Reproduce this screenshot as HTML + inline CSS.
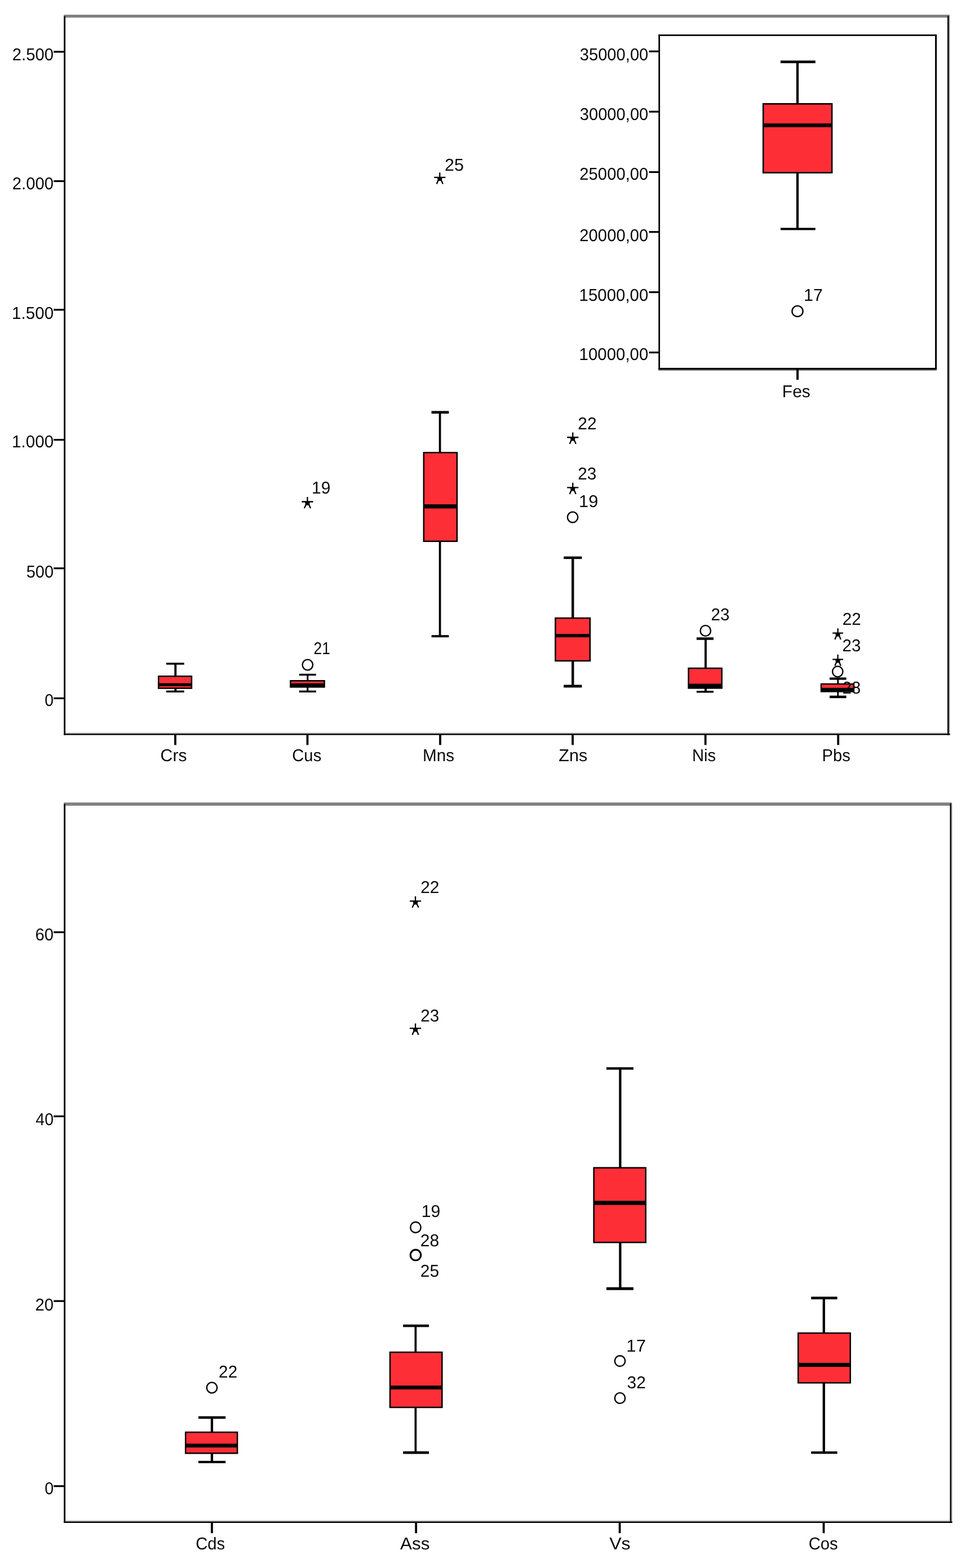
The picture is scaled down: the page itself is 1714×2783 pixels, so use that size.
<!DOCTYPE html>
<html lang="en">
<head>
<meta charset="utf-8">
<title>Boxplots</title>
<style>
html, body { margin: 0; padding: 0; background: #fff; }
body { width: 1714px; height: 2783px; overflow: hidden; }
svg { display: block; }
svg text { font-family: "Liberation Sans", Arial, Helvetica, sans-serif; text-rendering: geometricPrecision; font-size: 29.0px; fill: #0a0a0a; }
svg .st { fill: #000; }
svg .sa { fill: none; stroke: #000; stroke-width: 2.3; }
</style>
</head>
<body>
<svg width="1714" height="2783" viewBox="0 0 1714 2783">
<g>
<rect x="-10" y="-10" width="1734" height="2803" fill="#fff"/>
<rect x="113.2" y="26.1" width="1571.7" height="5.2" fill="#808080"/>
<rect x="1680.9" y="28.1" width="3" height="1276.5" fill="#161616"/>
<rect x="1683.9" y="28.1" width="1.6" height="1276.5" fill="#a8a8a8"/>
<rect x="116.1" y="1299.8" width="1564.8" height="2.3" fill="#cfcfcf"/>
<rect x="113.2" y="28.7" width="2.9" height="1275.9"/>
<rect x="113.2" y="1302.1" width="1572.3" height="2.5"/>
<rect x="95.2" y="90.3" width="18.8" height="3.2"/>
<text transform="matrix(1.0109 0 0 1.0500 21.73 107.4)">2.500</text>
<rect x="95.2" y="319.9" width="18.8" height="3.2"/>
<text transform="matrix(1.0095 0 0 1.0500 21.84 335.6)">2.000</text>
<rect x="95.2" y="548.2" width="18.8" height="3.2"/>
<text transform="matrix(1.0201 0 0 1.0500 21.08 566.1)">1.500</text>
<rect x="95.2" y="779" width="18.8" height="3.2"/>
<text transform="matrix(1.0201 0 0 1.0500 21.08 794.2)">1.000</text>
<rect x="95.2" y="1007.1" width="18.8" height="3.2"/>
<text transform="matrix(1.0020 0 0 1.0500 46.64 1025)">500</text>
<rect x="95.2" y="1237.8" width="18.8" height="3.2"/>
<text transform="matrix(0.9821 0 0 1.0500 79.26 1252.9)">0</text>
<rect x="309.1" y="1304" width="3.8" height="18.3"/>
<text transform="matrix(1.0415 0 0 1.0500 284.59 1351.4)">Crs</text>
<rect x="543.6" y="1304" width="3.8" height="18.3"/>
<text transform="matrix(1.0085 0 0 1.0500 518.24 1351.4)">Cus</text>
<rect x="779.1" y="1304" width="3.8" height="18.3"/>
<text transform="matrix(1.0233 0 0 1.0500 749.95 1351.4)">Mns</text>
<rect x="1014.2" y="1304" width="3.8" height="18.3"/>
<text transform="matrix(1.0560 0 0 1.0500 991.3 1351.4)">Zns</text>
<rect x="1249.8" y="1304" width="3.8" height="18.3"/>
<text transform="matrix(1.0105 0 0 1.0500 1227.88 1351.4)">Nis</text>
<rect x="1485.3" y="1304" width="3.8" height="18.3"/>
<text transform="matrix(1.0055 0 0 1.0500 1458.59 1351.4)">Pbs</text>
<rect x="309.35" y="1177.2" width="3.91" height="22.8"/>
<rect x="309.35" y="1221.8" width="3.91" height="6.2"/>
<rect x="295" y="1176.3" width="31.8" height="3.4"/>
<rect x="295" y="1225.6" width="31.8" height="3.4"/>
<rect x="280" y="1199" width="61.2" height="23.8"/>
<rect x="282.5" y="1201.5" width="56.2" height="18.8" fill="#fe2e37"/>
<rect x="281" y="1212.63" width="59.2" height="5.34"/>
<rect x="544.27" y="1196.8" width="3.06" height="11.2"/>
<rect x="544.27" y="1219.6" width="3.06" height="8.4"/>
<rect x="530.8" y="1195.8" width="30" height="3.4"/>
<rect x="530.8" y="1225.6" width="30" height="3.4"/>
<rect x="514.2" y="1207" width="62.6" height="13.6"/>
<rect x="516.7" y="1209.5" width="57.6" height="8.6" fill="#fe2e37"/>
<rect x="515.2" y="1212.86" width="60.6" height="5.89"/>
<ellipse cx="545.8" cy="1180" rx="9.2" ry="9.4" fill="none" stroke="#000" stroke-width="2.4"/>
<text transform="matrix(0.9093 0 0 1.0500 556.58 1160.9)">21</text>
<path class="sa" d="M535.4 890.5H555.6M545.5 881.9V890.5M543.7 893.5L539.94 902.1M547.3 893.5L551.06 902.1"/>
<polygon class="st" points="541.1,889.9 549.9,889.9 548.9,897.39 545.5,896.39 542.1,897.39"/>
<text transform="matrix(1.0345 0 0 1.0500 552.95 875.7)">19</text>
<rect x="778.73" y="730.2" width="3.74" height="72.8"/>
<rect x="778.73" y="961" width="3.74" height="169.4"/>
<rect x="765.6" y="729.46" width="30.8" height="4.68"/>
<rect x="765.6" y="1127.22" width="30.8" height="3.96"/>
<rect x="750.6" y="802" width="61.6" height="160"/>
<rect x="753.1" y="804.5" width="56.6" height="155" fill="#fe2e37"/>
<rect x="751.6" y="895.12" width="59.6" height="7.36"/>
<path class="sa" d="M770.2 314.9H790.4M780.3 306.3V314.9M778.5 317.9L774.74 326.5M782.1 317.9L785.86 326.5"/>
<polygon class="st" points="775.9,314.3 784.7,314.3 783.7,321.79 780.3,320.79 776.9,321.79"/>
<text transform="matrix(1.0514 0 0 1.0500 788.98 303.2)">25</text>
<rect x="1014.09" y="988.4" width="4.42" height="108.4"/>
<rect x="1014.09" y="1173.2" width="4.42" height="46.4"/>
<rect x="1000.2" y="987.65" width="32.2" height="4.5"/>
<rect x="1000.2" y="1215.47" width="32.2" height="4.86"/>
<rect x="984.2" y="1095.8" width="64" height="78.4"/>
<rect x="986.7" y="1098.3" width="59" height="73.4" fill="#fe2e37"/>
<rect x="985.2" y="1125.26" width="62" height="5.89"/>
<path class="sa" d="M1006.2 776.25H1026.4M1016.3 767.6V776.25M1014.5 779.25L1010.74 787.9M1018.1 779.25L1021.86 787.9"/>
<polygon class="st" points="1011.9,775.64 1020.7,775.64 1019.7,783.17 1016.3,782.17 1012.9,783.17"/>
<text transform="matrix(1.0345 0 0 1.0500 1025.2 762)">22</text>
<path class="sa" d="M1006.2 865.4H1026.4M1016.3 856.8V865.4M1014.5 868.4L1010.74 877M1018.1 868.4L1021.86 877"/>
<polygon class="st" points="1011.9,864.8 1020.7,864.8 1019.7,872.29 1016.3,871.29 1012.9,872.29"/>
<text transform="matrix(1.0269 0 0 1.0500 1025.21 851.4)">23</text>
<ellipse cx="1016.1" cy="918" rx="9.2" ry="9.4" fill="none" stroke="#000" stroke-width="2.4"/>
<text transform="matrix(1.0658 0 0 1.0500 1027.08 900)">19</text>
<rect x="1250.05" y="1132" width="3.91" height="53.8"/>
<rect x="1250.05" y="1221.6" width="3.91" height="7"/>
<rect x="1236" y="1131.25" width="30" height="4.5"/>
<rect x="1236" y="1226.1" width="30" height="3.4"/>
<rect x="1220.4" y="1184.8" width="61.6" height="37.8"/>
<rect x="1222.9" y="1187.3" width="56.6" height="32.8" fill="#fe2e37"/>
<rect x="1221.4" y="1213.51" width="59.6" height="7.18"/>
<ellipse cx="1251.8" cy="1119.5" rx="9.2" ry="9.4" fill="none" stroke="#000" stroke-width="2.4"/>
<text transform="matrix(1.0235 0 0 1.0500 1261.52 1101)">23</text>
<path class="sa" d="M1477.2 1123.63H1496M1486.6 1115.2V1123.63M1484.8 1126.63L1481.4 1135M1488.4 1126.63L1491.8 1135"/>
<polygon class="st" points="1482.2,1123.03 1491,1123.03 1490,1130.38 1486.6,1129.38 1483.2,1130.38"/>
<text transform="matrix(1.0277 0 0 1.0500 1494.71 1109.2)">22</text>
<path class="sa" d="M1477.2 1170.32H1496M1486.6 1161.8V1170.32M1484.8 1173.32L1481.4 1181.8M1488.4 1173.32L1491.8 1181.8"/>
<polygon class="st" points="1482.2,1169.72 1491,1169.72 1490,1177.14 1486.6,1176.14 1483.2,1177.14"/>
<text transform="matrix(1.0167 0 0 1.0500 1494.53 1155.7)">23</text>
<ellipse cx="1486.3" cy="1192" rx="9.2" ry="9.4" fill="#fff" stroke="#000" stroke-width="2.4"/>
<rect x="1485.36" y="1203.2" width="2.89" height="10.6"/>
<rect x="1485.36" y="1227.6" width="2.89" height="10.8"/>
<rect x="1472" y="1202.43" width="29.6" height="4.14"/>
<rect x="1472" y="1234.65" width="29.6" height="4.5"/>
<rect x="1455.8" y="1212.8" width="60.4" height="15.8"/>
<rect x="1458" y="1215" width="56" height="11.4" fill="#fe2e37"/>
<rect x="1456.8" y="1220.86" width="58.4" height="5.89"/>
<text transform="matrix(1.0031 0 0 1.0500 1494.75 1231.2)">28</text>
<rect x="1168.3" y="656" width="493.7" height="1.9" fill="#7a7a7a"/>
<rect x="1662" y="62.2" width="1.2" height="593.8" fill="#c8c8c8"/>
<rect x="1168.3" y="61.2" width="493.7" height="2.7"/>
<rect x="1168.3" y="652.9" width="493.7" height="3.1"/>
<rect x="1168.3" y="61.2" width="2.8" height="594.8"/>
<rect x="1659.1" y="61.2" width="2.9" height="594.8"/>
<rect x="1151.6" y="89.6" width="17.4" height="3.2"/>
<text transform="matrix(1.0054 0 0 1.0500 1028.71 107.1)">35000,00</text>
<rect x="1151.6" y="196.6" width="17.4" height="3.2"/>
<text transform="matrix(1.0054 0 0 1.0500 1028.71 213)">30000,00</text>
<rect x="1151.6" y="303.8" width="17.4" height="3.2"/>
<text transform="matrix(1.0085 0 0 1.0500 1028.34 319.2)">25000,00</text>
<rect x="1151.6" y="410.1" width="17.4" height="3.2"/>
<text transform="matrix(1.0085 0 0 1.0500 1028.34 427.5)">20000,00</text>
<rect x="1151.6" y="517" width="17.4" height="3.2"/>
<text transform="matrix(1.0147 0 0 1.0500 1027.59 533.6)">15000,00</text>
<rect x="1151.6" y="624" width="17.4" height="3.2"/>
<text transform="matrix(1.0147 0 0 1.0500 1027.59 639.4)">10000,00</text>
<rect x="1413.1" y="655" width="4" height="19.2"/>
<text transform="matrix(1.0345 0 0 1.0500 1387.83 704.9)">Fes</text>
<rect x="1412.88" y="108.2" width="4.25" height="75.8"/>
<rect x="1412.88" y="306.8" width="4.25" height="100.8"/>
<rect x="1385" y="107.46" width="61.8" height="4.68"/>
<rect x="1385" y="404.42" width="61.8" height="3.96"/>
<rect x="1352.9" y="183" width="124.5" height="124.8"/>
<rect x="1355.5" y="185.6" width="119.3" height="119.6" fill="#fe2e37"/>
<rect x="1353.9" y="219.09" width="122.5" height="6.62"/>
<ellipse cx="1415" cy="552.4" rx="9.6" ry="9.5" fill="none" stroke="#000" stroke-width="2.4"/>
<text transform="matrix(1.0467 0 0 1.0500 1426.12 533.6)">17</text>
<rect x="113.2" y="1424.3" width="1575.8" height="5.7" fill="#808080"/>
<rect x="1685.4" y="1426.3" width="2.6" height="1276.7" fill="#161616"/>
<rect x="1688" y="1426.3" width="1.6" height="1276.7" fill="#a8a8a8"/>
<rect x="116.1" y="2698.1" width="1569.3" height="2.3" fill="#cfcfcf"/>
<rect x="113.2" y="1426.9" width="2.9" height="1276.1"/>
<rect x="113.2" y="2700.4" width="1576.4" height="2.6"/>
<rect x="95.2" y="1653" width="18.8" height="3.2"/>
<text transform="matrix(1.0117 0 0 1.0500 62.53 1668.8)">60</text>
<rect x="95.2" y="1979.7" width="18.8" height="3.2"/>
<text transform="matrix(0.9852 0 0 1.0500 63.36 1996.9)">40</text>
<rect x="95.2" y="2307.6" width="18.8" height="3.2"/>
<text transform="matrix(1.0117 0 0 1.0500 62.53 2325.8)">20</text>
<rect x="95.2" y="2636.1" width="18.8" height="3.2"/>
<text transform="matrix(0.9893 0 0 1.0500 79.15 2651.7)">0</text>
<rect x="374.1" y="2703" width="3.8" height="18.2"/>
<text transform="matrix(1.0105 0 0 1.0500 347.13 2750)">Cds</text>
<rect x="736.3" y="2703" width="3.8" height="18.2"/>
<text transform="matrix(1.0853 0 0 1.0500 709.92 2750)">Ass</text>
<rect x="1097.7" y="2703" width="3.8" height="18.2"/>
<text transform="matrix(1.1102 0 0 1.0500 1081.14 2750)">Vs</text>
<rect x="1459.6" y="2703" width="3.8" height="18.2"/>
<text transform="matrix(1.0105 0 0 1.0500 1434.63 2750)">Cos</text>
<rect x="373.88" y="2514.4" width="4.25" height="27.4"/>
<rect x="373.88" y="2579.6" width="4.25" height="16.6"/>
<rect x="352" y="2513.65" width="48.2" height="4.5"/>
<rect x="352" y="2592.83" width="48.2" height="4.14"/>
<rect x="328" y="2540.8" width="94.4" height="39.8"/>
<rect x="330.5" y="2543.3" width="89.4" height="34.8" fill="#fe2e37"/>
<rect x="329" y="2562.3" width="92.4" height="6.81"/>
<ellipse cx="376" cy="2463" rx="9.2" ry="9.4" fill="none" stroke="#000" stroke-width="2.4"/>
<text transform="matrix(1.0242 0 0 1.0500 388.11 2445.4)">22</text>
<rect x="735.53" y="2351.6" width="3.74" height="48.2"/>
<rect x="735.53" y="2498.2" width="3.74" height="81.6"/>
<rect x="715.2" y="2350.85" width="45.8" height="4.5"/>
<rect x="715.2" y="2575.86" width="45.8" height="4.68"/>
<rect x="690.8" y="2398.8" width="94.8" height="100.4"/>
<rect x="693.3" y="2401.3" width="89.8" height="95.4" fill="#fe2e37"/>
<rect x="691.8" y="2459.3" width="92.8" height="6.81"/>
<path class="sa" d="M727 1599.36H747.2M737.1 1590.8V1599.36M735.3 1602.36L731.54 1610.9M738.9 1602.36L742.66 1610.9"/>
<polygon class="st" points="732.7,1598.76 741.5,1598.76 740.5,1606.21 737.1,1605.21 733.7,1606.21"/>
<text transform="matrix(1.0311 0 0 1.0500 746.2 1584.7)">22</text>
<path class="sa" d="M727 1825.16H747.2M737.1 1816.6V1825.16M735.3 1828.16L731.54 1836.7M738.9 1828.16L742.66 1836.7"/>
<polygon class="st" points="732.7,1824.56 741.5,1824.56 740.5,1832.01 737.1,1831.01 733.7,1832.01"/>
<text transform="matrix(1.0235 0 0 1.0500 746.22 1812.8)">23</text>
<ellipse cx="737.5" cy="2178.4" rx="9.2" ry="9.4" fill="none" stroke="#000" stroke-width="2.4"/>
<text transform="matrix(1.0449 0 0 1.0500 747.73 2160.2)">19</text>
<ellipse cx="737.5" cy="2227.6" rx="9.2" ry="9.4" fill="none" stroke="#000" stroke-width="3.2"/>
<text transform="matrix(1.0370 0 0 1.0500 745.7 2212)">28</text>
<text transform="matrix(1.0345 0 0 1.0500 745.7 2265.7)">25</text>
<rect x="1098.28" y="1895" width="4.25" height="177.4"/>
<rect x="1098.28" y="2205.4" width="4.25" height="83.6"/>
<rect x="1076" y="1894.24" width="48" height="4.32"/>
<rect x="1076" y="2284.68" width="48" height="5.04"/>
<rect x="1052.4" y="2071.4" width="94.6" height="135"/>
<rect x="1054.9" y="2073.9" width="89.6" height="130" fill="#fe2e37"/>
<rect x="1053.4" y="2131.32" width="92.6" height="7.36"/>
<ellipse cx="1100" cy="2415.6" rx="9.2" ry="9.4" fill="none" stroke="#000" stroke-width="2.4"/>
<text transform="matrix(1.0712 0 0 1.0500 1111.37 2399.4)">17</text>
<ellipse cx="1100" cy="2481.5" rx="9.2" ry="9.4" fill="none" stroke="#000" stroke-width="2.4"/>
<text transform="matrix(1.0320 0 0 1.0500 1112.58 2464.3)">32</text>
<rect x="1459.67" y="2302.2" width="4.25" height="63.6"/>
<rect x="1459.67" y="2454.6" width="4.25" height="125"/>
<rect x="1439.2" y="2301.46" width="46.4" height="4.68"/>
<rect x="1439.2" y="2576.04" width="46.4" height="4.32"/>
<rect x="1415" y="2364.8" width="95" height="90.8"/>
<rect x="1417.5" y="2367.3" width="90" height="85.8" fill="#fe2e37"/>
<rect x="1416" y="2418.91" width="93" height="7.18"/>
</g>
</svg>
</body>
</html>
